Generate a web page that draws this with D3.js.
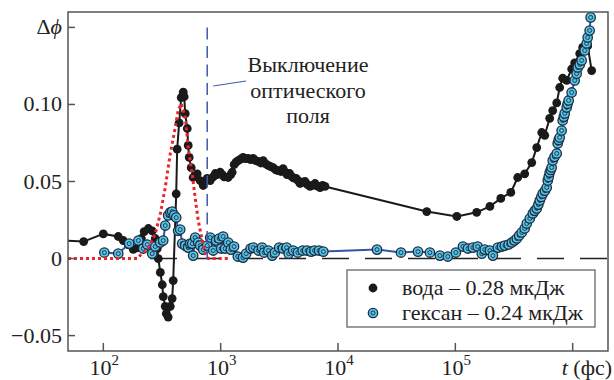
<!DOCTYPE html>
<html>
<head>
<meta charset="utf-8">
<script src="https://cdn.jsdelivr.net/npm/d3@7"></script>
<style>
  body { margin: 0; background: #fff; }
  text { font-family: "Liberation Serif", "Times New Roman", "DejaVu Serif", serif; fill: #222; }
</style>
</head>
<body>
<div id="chart"></div>
<script>
// water - 0.28 uJ : [t (fs), dphi]
let waterData = [
  [40, 0.012], [68, 0.011], [100, 0.016], [134, 0.0143], [148, 0.0117], [163, 0.009],
  [180, 0.006], [195, 0.007], [211, 0.013], [223, 0.0175], [242, 0.0195], [261, 0.018],
  [277, 0.013], [288, 0.0065], [294, 0.0], [306, -0.009], [318, -0.017], [324, -0.0247],
  [337, -0.031], [344, -0.0357], [357, -0.038], [372, -0.031], [386, -0.026], [394, -0.0143],
  [418, 0.042], [426, 0.071], [443, 0.088], [461, 0.1045], [480, 0.108], [489, 0.105],
  [499, 0.094], [519, 0.0844], [529, 0.0734], [539, 0.0656], [561, 0.059], [583, 0.0526],
  [631, 0.055], [669, 0.0506], [710, 0.0474], [768, 0.052], [814, 0.0506], [864, 0.053],
  [900, 0.0552], [934, 0.0545], [990, 0.056], [1030, 0.0545], [1071, 0.053], [1158, 0.0526],
  [1220, 0.0545], [1253, 0.056], [1303, 0.061], [1350, 0.0625], [1409, 0.0636], [1480, 0.0645],
  [1553, 0.0656], [1630, 0.0648], [1713, 0.065], [1800, 0.0642], [1890, 0.065], [1990, 0.0636],
  [2086, 0.063], [2200, 0.062], [2302, 0.0636], [2420, 0.0615], [2538, 0.0604], [2670, 0.0597],
  [2800, 0.059], [2950, 0.0575], [3086, 0.057], [3250, 0.0565], [3404, 0.0584], [3550, 0.056],
  [3681, 0.0545], [3870, 0.0552], [4060, 0.053], [4220, 0.0522], [4391, 0.052], [4570, 0.0505],
  [4750, 0.0487], [5000, 0.0495], [5240, 0.05], [5500, 0.048], [5780, 0.0468], [6070, 0.0475],
  [6370, 0.0487], [6700, 0.047], [7030, 0.046], [7400, 0.0475], [7750, 0.0468], [57100, 0.0305],
  [103000, 0.0273], [152000, 0.030], [197000, 0.0338],
  [244000, 0.039], [297000, 0.0429], [340000, 0.0526], [390000, 0.055], [448000, 0.0623],
  [494000, 0.072], [545000, 0.0818], [578000, 0.080], [637000, 0.091], [676000, 0.096],
  [731000, 0.101], [775000, 0.111], [822000, 0.117], [889000, 0.1156], [980000, 0.123],
  [1040000, 0.127], [1148000, 0.133], [1217000, 0.137], [1342000, 0.138], [1452000, 0.122]
];

// hexane - 0.24 uJ
let hexaneData = [
  [102, 0.0039], [134, 0.0032], [166, 0.0097], [199, 0.0117], [219, 0.0065], [237, 0.0091],
  [261, 0.0032], [277, 0.0078], [306, 0.0104], [324, 0.0117], [337, 0.0214], [357, 0.028],
  [372, 0.030], [386, 0.0305], [402, 0.028], [418, 0.0266], [434, 0.018], [452, 0.0188],
  [470, 0.0097], [499, 0.0084], [529, 0.0071], [550, 0.0097], [572, 0.0097], [583, 0.0019],
  [606, 0.0136], [644, 0.0104], [669, 0.0084], [710, 0.0058], [768, 0.0084], [814, 0.0136],
  [864, 0.0052], [915, 0.0117], [971, 0.013], [1010, 0.0065], [1050, 0.0143], [1092, 0.0065],
  [1160, 0.0104], [1220, 0.0058], [1300, 0.0078], [1400, 0.0013], [1550, 0.0006], [1650, 0.0032],
  [1800, 0.0065], [1900, 0.0071], [2100, 0.0052], [2250, 0.0071], [2350, 0.0039], [2550, 0.0052],
  [2750, 0.0019], [2900, 0.0039], [3150, 0.0071], [3400, 0.0065], [3650, 0.0071], [3800, 0.0032],
  [4150, 0.0052], [4550, 0.0039], [5000, 0.0052], [5450, 0.0052], [5900, 0.0045], [6300, 0.0052],
  [6900, 0.0052], [7500, 0.0045], [21500, 0.0058], [34400, 0.0039], [48000, 0.0045],
  [60700, 0.0039], [73800, 0.0019], [86300, 0.0013], [101000, 0.0039], [116000, 0.0078],
  [128000, 0.0065], [141000, 0.0071], [155000, 0.0078], [168000, 0.0032], [178000, 0.0058],
  [197000, 0.0052], [209000, 0.0019], [230000, 0.0071], [250000, 0.0078], [264000, 0.0084],
  [285000, 0.0091], [303000, 0.0104], [320000, 0.0117], [334000, 0.013], [350000, 0.015],
  [368000, 0.0169], [390000, 0.0195], [406000, 0.0227], [431000, 0.026], [457000, 0.0292],
  [475000, 0.031], [494000, 0.0325], [510000, 0.035], [524000, 0.0377], [540000, 0.040],
  [556000, 0.0422], [580000, 0.044], [601000, 0.0461], [613000, 0.0506], [625000, 0.053],
  [637000, 0.0558], [650000, 0.0575], [662000, 0.0591], [676000, 0.0636], [700000, 0.066],
  [731000, 0.0682], [745000, 0.0747], [760000, 0.077], [775000, 0.0786], [805000, 0.0831],
  [822000, 0.0896], [840000, 0.092], [855000, 0.0942], [889000, 0.098], [905000, 0.1005],
  [924000, 0.1026], [980000, 0.1078], [1040000, 0.1156], [1081000, 0.120], [1104000, 0.124],
  [1150000, 0.126], [1193000, 0.1286], [1265000, 0.135], [1315000, 0.1396], [1342000, 0.1435],
  [1395000, 0.148], [1423000, 0.1565]
];

// optical pulse (dotted)
let pulseData = [
  [50, 0], [195, 0], [206, 0.002], [242, 0.007], [277, 0.016], [306, 0.029], [337, 0.046],
  [372, 0.068], [410, 0.085], [434, 0.096], [461, 0.1006], [499, 0.0916], [529, 0.072],
  [572, 0.055], [606, 0.0396], [644, 0.0247], [697, 0.0117], [738, 0.0032], [783, 0], [1158, 0]
];

let xTicks = [1e2, 1e3, 1e4, 1e5, 1e6];
let xTickExp = ["2", "3", "4", "5", ""];
let yTicks = [-0.05, 0, 0.05, 0.10, 0.15];
let yTickLabels = ["\u22120.05", "0", "0.05", "0.10", ""];
let legendLabels = ["вода \u2013 0.28 мкДж", "гексан \u2013 0.24 мкДж"];
let switchOffT = 768;

let width = 614, height = 380;
let mLeft = 68, mRight = 608, mTop = 12, mBottom = 351;

let svg = d3.select("#chart").append("svg")
  .attr("width", width)
  .attr("height", height);

let x = d3.scaleLog().domain([50, 2e6]).range([mLeft, mRight]);
let y = d3.scaleLinear().domain([-0.06, 0.16]).range([mBottom, mTop]);

svg.append("clipPath").attr("id", "clip")
  .append("rect")
  .attr("x", mLeft).attr("y", mTop)
  .attr("width", mRight - mLeft).attr("height", mBottom - mTop);

let plot = svg.append("g").attr("clip-path", "url(#clip)");

// zero reference line
plot.append("line")
  .attr("x1", x(250)).attr("x2", x(2e6))
  .attr("y1", y(0)).attr("y2", y(0))
  .attr("stroke", "#222")
  .attr("stroke-width", 1.6)
  .attr("stroke-dasharray", "27,16");

let line = d3.line().x(d => x(d[0])).y(d => y(d[1]));

// water
plot.append("path")
  .datum(waterData)
  .attr("d", line)
  .attr("fill", "none")
  .attr("stroke", "#1a1a1a")
  .attr("stroke-width", 2);

plot.selectAll(".water")
  .data(waterData)
  .enter()
  .append("circle")
  .attr("class", "water")
  .attr("cx", d => x(d[0]))
  .attr("cy", d => y(d[1]))
  .attr("r", 4.4)
  .attr("fill", "#1a1a1a");

// hexane
plot.append("path")
  .datum(hexaneData)
  .attr("d", line)
  .attr("fill", "none")
  .attr("stroke", "#3453a5")
  .attr("stroke-width", 2);

let hex = plot.selectAll(".hexane")
  .data(hexaneData)
  .enter()
  .append("g")
  .attr("class", "hexane")
  .attr("transform", d => `translate(${x(d[0])}, ${y(d[1])})`);

hex.append("circle")
  .attr("r", 4.7)
  .attr("fill", "#55c6ea")
  .attr("stroke", "#1e2c40")
  .attr("stroke-width", 1.3);

hex.append("circle")
  .attr("r", 2)
  .attr("fill", "#55c6ea")
  .attr("stroke", "#1e2c40")
  .attr("stroke-width", 0.9);

// pulse
plot.append("path")
  .datum(pulseData)
  .attr("d", line)
  .attr("fill", "none")
  .attr("stroke", "#e8262c")
  .attr("stroke-width", 3)
  .attr("stroke-dasharray", "3,3");

// optical field switch-off marker
plot.append("line")
  .attr("x1", x(switchOffT)).attr("x2", x(switchOffT))
  .attr("y1", y(0.15)).attr("y2", y(0))
  .attr("stroke", "#3b5aa8")
  .attr("stroke-width", 1.5)
  .attr("stroke-dasharray", "12,6.5");

svg.append("line")
  .attr("x1", x(switchOffT) + 6).attr("y1", 86)
  .attr("x2", 246).attr("y2", 81)
  .attr("stroke", "#3b5aa8")
  .attr("stroke-width", 1);

let note = svg.append("text")
  .attr("text-anchor", "middle")
  .style("font-size", "22px");
["Выключение", "оптического", "поля"].forEach((s, i) => {
  note.append("tspan").attr("x", 308).attr("y", 72 + i * 25.5).text(s);
});

// frame
svg.append("rect")
  .attr("x", mLeft).attr("y", mTop)
  .attr("width", mRight - mLeft).attr("height", mBottom - mTop)
  .attr("fill", "none")
  .attr("stroke", "#555")
  .attr("stroke-width", 1.5);

// y ticks
svg.selectAll(".ytick")
  .data(yTicks)
  .enter()
  .append("line")
  .attr("x1", mLeft).attr("x2", mLeft + 7)
  .attr("y1", d => y(d)).attr("y2", d => y(d))
  .attr("stroke", "#555")
  .attr("stroke-width", 1.5);

svg.selectAll(".ylabel")
  .data(yTicks)
  .enter()
  .append("text")
  .attr("x", mLeft - 6)
  .attr("y", d => y(d) + 7)
  .attr("text-anchor", "end")
  .style("font-size", "22px")
  .text((d, i) => yTickLabels[i]);

let dphi = svg.append("text")
  .attr("x", mLeft - 6)
  .attr("y", y(0.15) + 7)
  .attr("text-anchor", "end")
  .style("font-size", "22px");
dphi.append("tspan").text("\u0394");
dphi.append("tspan").style("font-style", "italic").text("\u03D5");

// x ticks
svg.selectAll(".xtick")
  .data(xTicks)
  .enter()
  .append("line")
  .attr("x1", d => x(d)).attr("x2", d => x(d))
  .attr("y1", mBottom).attr("y2", mBottom - 8)
  .attr("stroke", "#555")
  .attr("stroke-width", 1.5);

let xl = svg.selectAll(".xlabel")
  .data(xTicks.filter((d, i) => xTickExp[i] !== ""))
  .enter()
  .append("text")
  .attr("x", d => x(d) + 1)
  .attr("y", 375)
  .attr("text-anchor", "middle")
  .style("font-size", "22px");
xl.append("tspan").text("10");
xl.append("tspan")
  .attr("dy", -10)
  .style("font-size", "15px")
  .text((d, i) => xTickExp[i]);

let tl = svg.append("text")
  .attr("x", 612)
  .attr("y", 375)
  .attr("text-anchor", "end")
  .style("font-size", "22px");
tl.append("tspan").style("font-style", "italic").text("t");
tl.append("tspan").text(" (фс)");

// legend
let legend = svg.append("g");
legend.append("rect")
  .attr("x", 347).attr("y", 270)
  .attr("width", 248).attr("height", 57)
  .attr("fill", "#fff")
  .attr("stroke", "#666")
  .attr("stroke-width", 1.3);

legend.append("circle")
  .attr("cx", 373).attr("cy", 288)
  .attr("r", 4.4).attr("fill", "#1a1a1a");

let lh = legend.append("g").attr("transform", "translate(373, 313)");
lh.append("circle").attr("r", 4.7).attr("fill", "#55c6ea")
  .attr("stroke", "#1e2c40").attr("stroke-width", 1.3);
lh.append("circle").attr("r", 2).attr("fill", "#55c6ea")
  .attr("stroke", "#1e2c40").attr("stroke-width", 0.9);

legend.selectAll(".ltext")
  .data(legendLabels)
  .enter()
  .append("text")
  .attr("x", 402)
  .attr("y", (d, i) => 295 + i * 25)
  .style("font-size", "22px")
  .text(d => d);
</script>
</body>
</html>
